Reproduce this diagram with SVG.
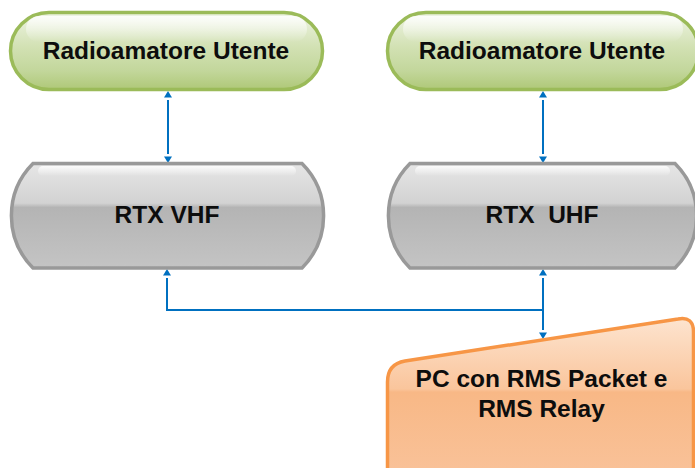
<svg xmlns="http://www.w3.org/2000/svg" width="695" height="468" viewBox="0 0 695 468">
<defs>
<style>
.lbl{font-family:"Liberation Sans",Arial,sans-serif;font-weight:bold;font-size:24.5px;fill:#0d0d0d;text-anchor:middle}
.green{fill:url(#gGreen);stroke:#9bbb59;stroke-width:3.5}
.gray{fill:url(#gGray);stroke:#999999;stroke-width:3.5}
.orange{fill:url(#gOrange);stroke:#f79646;stroke-width:3.5}
.conn{fill:none;stroke:#0070c0;stroke-width:2}
</style>
<linearGradient id="gGreen" x1="0" y1="0" x2="0" y2="1">
<stop offset="0" stop-color="#eef4e4"/>
<stop offset="0.45" stop-color="#d2e1b3"/>
<stop offset="0.75" stop-color="#c3d79c"/>
<stop offset="1" stop-color="#afc878"/>
</linearGradient>
<linearGradient id="gGray" x1="0" y1="0" x2="0" y2="1">
<stop offset="0" stop-color="#e6e6e6"/>
<stop offset="0.38" stop-color="#d2d2d2"/>
<stop offset="0.42" stop-color="#b4b4b4"/>
<stop offset="1" stop-color="#c4c4c4"/>
</linearGradient>
<linearGradient id="gOrange" x1="0" y1="0" x2="0" y2="1">
<stop offset="0" stop-color="#fde4cf"/>
<stop offset="0.45" stop-color="#fac59c"/>
<stop offset="0.47" stop-color="#f8b886"/>
<stop offset="1" stop-color="#f9c299"/>
</linearGradient>
<linearGradient id="gloss" x1="0" y1="0" x2="0" y2="1">
<stop offset="0" stop-color="#ffffff" stop-opacity="0.85"/>
<stop offset="1" stop-color="#ffffff" stop-opacity="0"/>
</linearGradient>
<marker id="arr" markerUnits="userSpaceOnUse" markerWidth="12" markerHeight="10" viewBox="0 0 12 10" refX="0" refY="4" orient="auto-start-reverse">
<path d="M2.5,0 L9,4 L2.5,8 z" fill="#0070c0"/>
</marker>
</defs>

<g id="connectors">
<line class="conn" x1="168" y1="100" x2="168" y2="154" marker-start="url(#arr)" marker-end="url(#arr)"/>
<line class="conn" x1="543" y1="100" x2="543" y2="154" marker-start="url(#arr)" marker-end="url(#arr)"/>
<polyline class="conn" points="167,278 167,310 543,310" marker-start="url(#arr)"/>
<line class="conn" x1="543" y1="278" x2="543" y2="330" marker-start="url(#arr)" marker-end="url(#arr)"/>
</g>

<g id="user1">
<rect class="green" x="10.5" y="12.5" width="312" height="77" rx="38.5"/>
<rect x="26" y="16" width="281" height="26" rx="13" fill="url(#gloss)"/>
<text class="lbl" x="166" y="59">Radioamatore Utente</text>
</g>

<g id="user2">
<rect class="green" x="387.5" y="12.5" width="311" height="77" rx="38.5"/>
<rect x="403" y="16" width="280" height="26" rx="13" fill="url(#gloss)"/>
<text class="lbl" x="542" y="59">Radioamatore Utente</text>
</g>

<g id="rtxvhf">
<path class="gray" d="M33,163.5 L302,163.5 A74,74 0 0 1 302,268 L33,268 A74,74 0 0 1 33,163.5 Z"/>
<rect x="38" y="166" width="258" height="10" rx="5" fill="url(#gloss)"/>
<text class="lbl" x="167" y="223">RTX VHF</text>
</g>

<g id="rtxuhf">
<path class="gray" d="M410,163.5 L675,163.5 A74,74 0 0 1 675,268 L410,268 A74,74 0 0 1 410,163.5 Z"/>
<rect x="415" y="166" width="255" height="10" rx="5" fill="url(#gloss)"/>
<text class="lbl" x="542" y="223">RTX&#160; UHF</text>
</g>

<g id="pc">
<path class="orange" d="M387.5,382 Q387.5,364 405,361 L678,319 Q693.5,316 693.5,332 L693.5,475 L387.5,475 Z"/>
<text class="lbl" x="541.5" y="387">PC con RMS Packet e</text>
<text class="lbl" x="541.5" y="417">RMS Relay</text>
</g>
</svg>
